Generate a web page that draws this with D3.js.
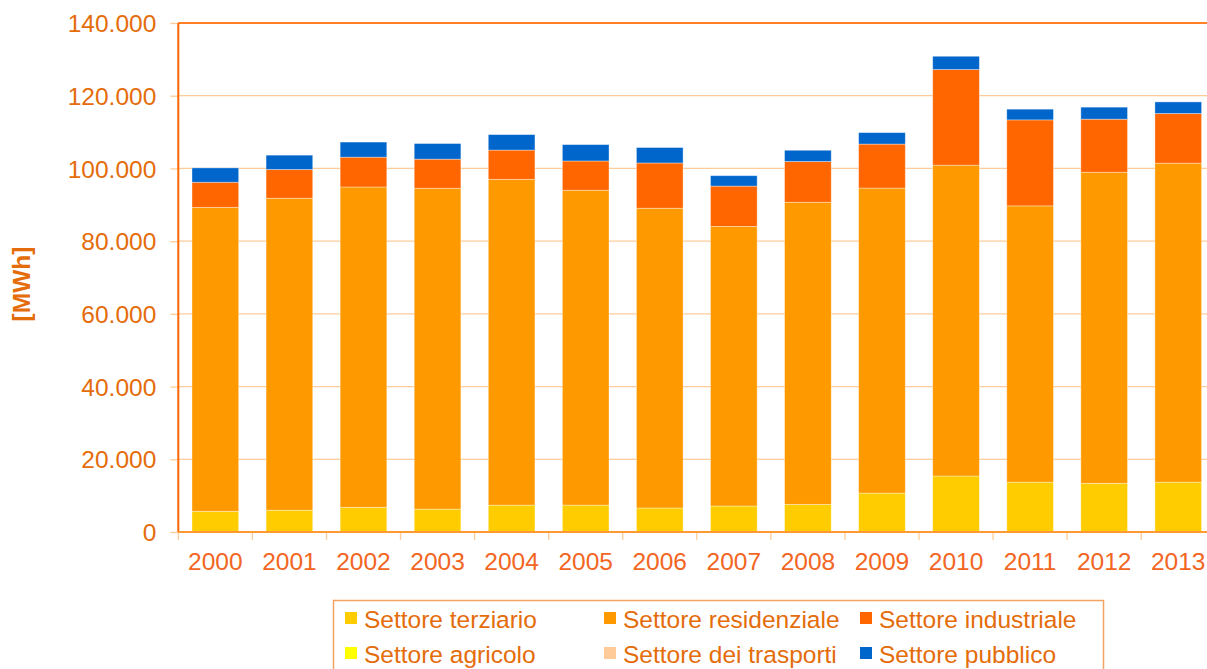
<!DOCTYPE html>
<html>
<head>
<meta charset="utf-8">
<script src="https://cdn.jsdelivr.net/npm/d3@7"></script>
<style>
  html, body { margin: 0; padding: 0; background: #fff; }
  svg { display: block; font-family: "Liberation Sans", Arial, sans-serif; }
</style>
</head>
<body>
<svg id="chart" width="1207" height="669"></svg>
<script>
const years = ["2000","2001","2002","2003","2004","2005","2006","2007","2008","2009","2010","2011","2012","2013"];
const terziario    = [5700, 6000, 6800, 6300, 7400, 7400, 6600, 7150, 7600, 10700, 15400, 13700, 13400, 13700];
const residenziale = [83600, 85800, 88100, 88250, 89600, 86600, 82450, 76900, 83100, 83900, 85500, 76000, 85550, 87750];
const industriale  = [6900, 7900, 8200, 8000, 8050, 8050, 12450, 11100, 11200, 12100, 26300, 23650, 14600, 13650];
const agricolo     = [0, 0, 0, 0, 0, 0, 0, 0, 0, 0, 0, 0, 0, 0];
const trasporti    = [0, 0, 0, 0, 0, 0, 0, 0, 0, 0, 0, 0, 0, 0];
const pubblico     = [3950, 3950, 4150, 4300, 4250, 4500, 4250, 2850, 3100, 3150, 3650, 2950, 3300, 3200];
const yTicks = [0, 20000, 40000, 60000, 80000, 100000, 120000, 140000];

const seriesNames = ["Settore terziario","Settore residenziale","Settore industriale","Settore agricolo","Settore dei trasporti","Settore pubblico"];
const seriesKeys = ["terziario","residenziale","industriale","agricolo","trasporti","pubblico"];
const seriesData = [terziario, residenziale, industriale, agricolo, trasporti, pubblico];
const colors = ["#FFCC00","#FF9900","#FF6600","#FFFF00","#FFCC99","#0066CC"];

const rows = years.map((yr, i) => {
  const o = { year: yr };
  seriesKeys.forEach((k, j) => o[k] = seriesData[j][i]);
  return o;
});

const svg = d3.select("#chart");
const pLeft = 178.3, pRight = 178.3 + 74.07 * 14, pTop = 23, pBottom = 532;
const FS = 24.5;

const x = d3.scaleBand().domain(years).range([pLeft, pRight]).paddingInner(0.37).paddingOuter(0.185);
const y = d3.scaleLinear().domain([0, 140000]).range([pBottom, pTop]);

const loc = d3.formatLocale({ decimal: ",", thousands: ".", grouping: [3], currency: ["€", ""] });
const fmt = loc.format(",d");

// gridlines
svg.append("g").selectAll("line").data(yTicks.filter(d => d > 0 && d < 140000)).join("line")
  .attr("x1", pLeft).attr("x2", 1207).attr("y1", d => y(d)).attr("y2", d => y(d))
  .attr("stroke", "#FFCC99").attr("stroke-width", 1.3);

// y axis
const yAxis = svg.append("g").attr("transform", `translate(${pLeft},0)`)
  .call(d3.axisLeft(y).tickValues(yTicks).tickFormat(fmt).tickSize(8).tickPadding(14));
yAxis.select(".domain").remove();
yAxis.selectAll(".tick line").attr("stroke", "#FFCC99").attr("stroke-width", 1.3);
yAxis.selectAll(".tick text").attr("fill", "#E46C0A").attr("font-size", FS)
  .attr("font-family", "Liberation Sans, Arial, sans-serif").attr("dy", "0.35em");

// bars
const stacked = d3.stack().keys(seriesKeys)(rows);
svg.append("g").selectAll("g").data(stacked).join("g")
  .attr("fill", (d, i) => colors[i])
  .selectAll("rect").data(d => d).join("rect")
  .attr("x", d => x(d.data.year))
  .attr("width", x.bandwidth())
  .attr("y", d => y(d[1]))
  .attr("height", d => Math.max(0, y(d[0]) - y(d[1])))
  .attr("stroke", "rgba(255,255,255,0.45)")
  .attr("stroke-width", 0.8);

// x axis ticks at band boundaries
const step = x.step();
const bounds = d3.range(years.length + 1).map(i => pLeft + i * step);
svg.append("g").selectAll("line").data(bounds).join("line")
  .attr("x1", d => d).attr("x2", d => d).attr("y1", pBottom).attr("y2", pBottom + 8)
  .attr("stroke", "#FFCC99").attr("stroke-width", 1.3);

// x labels
svg.append("g").selectAll("text").data(years).join("text")
  .attr("x", d => x(d) + x.bandwidth() / 2).attr("y", 569.5)
  .attr("text-anchor", "middle").attr("fill", "#F26522").attr("font-size", FS)
  .text(d => d);

// frame lines
svg.append("line").attr("x1", pLeft).attr("x2", 1207).attr("y1", pTop).attr("y2", pTop)
  .attr("stroke", "#FF7F27").attr("stroke-width", 2);
svg.append("line").attr("x1", pLeft).attr("x2", pLeft).attr("y1", pTop).attr("y2", pBottom)
  .attr("stroke", "#FF6600").attr("stroke-width", 2);
svg.append("line").attr("x1", pLeft).attr("x2", 1207).attr("y1", pBottom).attr("y2", pBottom)
  .attr("stroke", "#FF9933").attr("stroke-width", 2);

// y label
svg.append("text").attr("transform", "translate(30,284) rotate(-90)")
  .attr("text-anchor", "middle").attr("font-weight", "bold").attr("font-size", FS)
  .attr("fill", "#E46C0A").text("[MWh]");

// legend
svg.append("rect").attr("x", 333.5).attr("y", 600.5).attr("width", 770).attr("height", 90)
  .attr("fill", "#fff").attr("stroke", "#F4A460").attr("stroke-width", 1.5);
const colX = [345, 604, 860];
const rowY = [612, 647];
const lg = svg.append("g").selectAll("g").data(seriesNames).join("g")
  .attr("transform", (d, i) => `translate(${colX[i % 3]},${rowY[Math.floor(i / 3)]})`);
lg.append("rect").attr("width", 12).attr("height", 12).attr("fill", (d, i) => colors[i]);
lg.append("text").attr("x", 19).attr("y", 15.5).attr("font-size", FS).attr("fill", "#E46C0A")
  .text(d => d);
</script>
</body>
</html>
